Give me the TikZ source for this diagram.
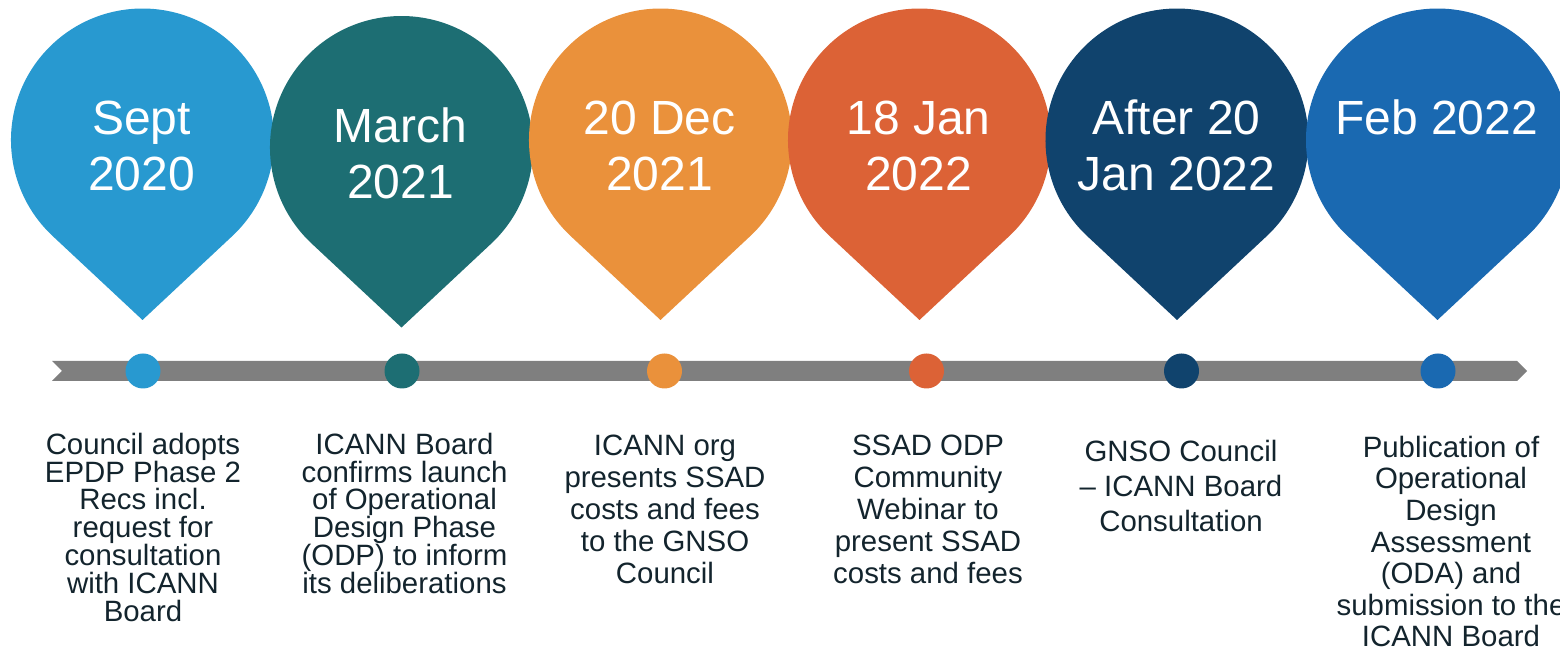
\documentclass[tikz,border=0pt]{standalone}
\usepackage{fontspec}
\setmainfont{Liberation Sans}
\definecolor{pinsky}{HTML}{2899D0}
\definecolor{pinteal}{HTML}{1D6E73}
\definecolor{pinamber}{HTML}{EA913B}
\definecolor{pinrust}{HTML}{DC6236}
\definecolor{pinnavy}{HTML}{10436D}
\definecolor{pinblue}{HTML}{1A69B1}
\definecolor{ink}{HTML}{13242D}
\definecolor{bargray}{HTML}{7F7F7F}

\begin{document}
\begin{tikzpicture}[x=0.5pt,y=-0.5pt,
        date/.style={text=white, align=center, inner sep=0pt, anchor=north,
                     font=\fontsize{24}{28}\selectfont},
        desc/.style={text=ink, align=center, inner sep=0pt, anchor=north,
                     font=\fontsize{14.7}{#1}\selectfont},
        dot/.style={circle, inner sep=0pt, minimum size=17.5pt}]
            \useasboundingbox (0,0) rectangle (1560,651);
            \clip (0,0) rectangle (1560,651);

            % pins, tip first, then round the top
            \fill[pinsky]   (142.5,320)  -- ++(-89.8,-83.9) arc (133.06:406.94:131.5) -- cycle;
            \fill[pinteal]  (401.5,327.5) -- ++(-89.8,-83.9) arc (133.06:406.94:131.5) -- cycle;
            \fill[pinamber] (660.5,320)  -- ++(-89.8,-83.9) arc (133.06:406.94:131.5) -- cycle;
            \fill[pinrust]  (919.5,320)  -- ++(-89.8,-83.9) arc (133.06:406.94:131.5) -- cycle;
            \fill[pinnavy]  (1177,320)   -- ++(-89.8,-83.9) arc (133.06:406.94:131.5) -- cycle;
            \fill[pinblue]  (1437.5,320) -- ++(-89.8,-83.9) arc (133.06:406.94:131.5) -- cycle;

            \node[date] (sept)  at (141.5,94)   {\rule{0pt}{20pt}Sept\\2020};
            \node[date] (march) at (400.5,101.7) {\rule{0pt}{20pt}March\\2021};
            \node[date] (dec)   at (659.5,94)   {\rule{0pt}{20pt}20 Dec\\2021};
            \node[date] (jan)   at (918.5,94)   {\rule{0pt}{20pt}18 Jan\\2022};
            \node[date] (after) at (1176.5,94)  {\rule{0pt}{20pt}After 20\\Jan 2022};
            \node[date] (feb)   at (1436.5,94)  {\rule{0pt}{20pt}Feb 2022};

            % time bar
            \fill[bargray] (52,361) -- (1517,361) -- (1527,371) -- (1517,381) -- (52,381) -- (62,371) -- cycle;
            \node[dot, fill=pinsky]   (dotsept)  at (143,371)    {};
            \node[dot, fill=pinteal]  (dotmarch) at (402,371)    {};
            \node[dot, fill=pinamber] (dotdec)   at (664.5,371)  {};
            \node[dot, fill=pinrust]  (dotjan)   at (926.5,371)  {};
            \node[dot, fill=pinnavy]  (dotafter) at (1181.5,371) {};
            \node[dot, fill=pinblue]  (dotfeb)   at (1438,371)   {};

            \node[desc=13.9] (adopts) at (143,430) {\rule{0pt}{12pt}Council adopts\\EPDP Phase 2\\Recs incl.\\request for\\consultation\\with ICANN\\Board};
            \node[desc=13.9] (launch) at (404.5,430) {\rule{0pt}{12pt}ICANN Board\\confirms launch\\of Operational\\Design Phase\\(ODP) to inform\\its deliberations};
            \node[desc=16] (costs) at (665,431) {\rule{0pt}{12pt}ICANN org\\presents SSAD\\costs and fees\\to the GNSO\\Council};
            \node[desc=16] (webinar) at (928,431) {\rule{0pt}{12pt}SSAD ODP\\Community\\Webinar to\\present SSAD\\costs and fees};
            \node[desc=17.5] (consult) at (1181,437) {\rule{0pt}{12pt}GNSO Council\\\textendash{} ICANN Board\\Consultation};
            \node[desc=15.8] (oda) at (1451,433) {\rule{0pt}{12pt}Publication of\\Operational\\Design\\Assessment\\(ODA) and\\submission to the\\ICANN Board};

            %\draw[red] (0,0) rectangle (1560,651);
        \end{tikzpicture}
\end{document}
